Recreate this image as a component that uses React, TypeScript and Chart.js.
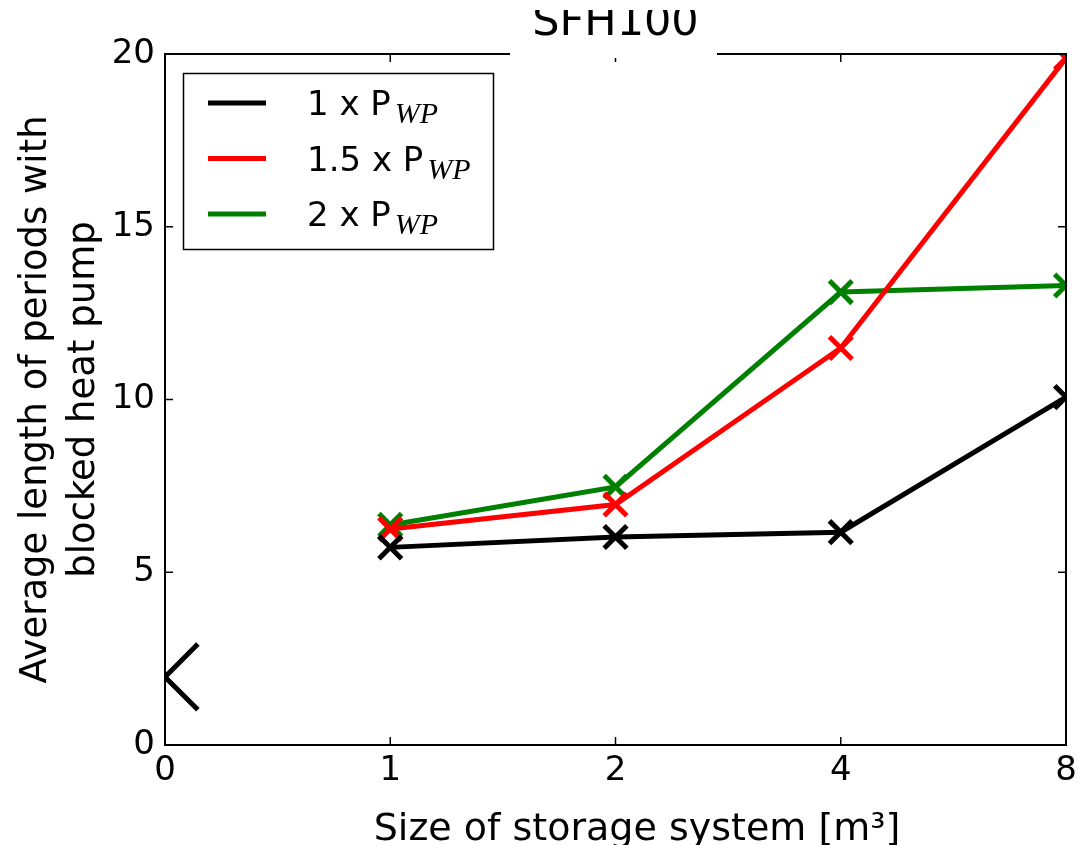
import React, { useEffect, useRef } from 'react';
import { Chart, registerables } from 'chart.js';

Chart.register(...registerables);

// ---- data ----
const categories = ['0', '1', '2', '4', '8'];
const seriesNames = ['1 x P', '1.5 x P', '2 x P'];
const seriesSubscript = 'WP';
const seriesColors = ['#000000', '#ff0000', '#008000'];
const series1x = [null, 5.72, 6.02, 6.16, 10.07];
const series15x = [null, 6.25, 6.96, 11.49, 19.88];
const series2x = [null, 6.37, 7.47, 13.11, 13.3];
const strayMarker = [1.97, null, null, null, null];
const yMin = 0;
const yMax = 20;
const yStep = 5;
const titleText = 'SFH100';
const xTitle = 'Size of storage system [m³]';
const yTitle = ['Average length of periods with', 'blocked heat pump'];

const FONT = '"DejaVu Sans", sans-serif';

const framePlugin = {
  id: 'framePlugin',
  afterDraw(chart: any) {
    const { ctx, chartArea, scales } = chart;
    const { left, right, top, bottom } = chartArea;
    const xs = scales.x;
    const ys = scales.y;
    ctx.save();
    ctx.strokeStyle = '#000';
    ctx.lineWidth = 2;
    ctx.strokeRect(left, top, right - left, bottom - top);
    ctx.lineWidth = 1.5;
    const tl = 8;
    const line = (x1: number, y1: number, x2: number, y2: number) => {
      ctx.beginPath();
      ctx.moveTo(x1, y1);
      ctx.lineTo(x2, y2);
      ctx.stroke();
    };
    ys.ticks.forEach((_t: any, i: number) => {
      const py = ys.getPixelForTick(i);
      line(left, py, left + tl, py);
      line(right, py, right - tl, py);
    });
    xs.ticks.forEach((_t: any, i: number) => {
      const px = xs.getPixelForTick(i);
      line(px, bottom, px, bottom - tl);
      line(px, top, px, top + tl);
    });

    // title with its white patch (top of the text clipped)
    const cx = (left + right) / 2;
    ctx.fillStyle = '#fff';
    ctx.fillRect(510, 0, 207, top + 4);
    ctx.save();
    ctx.beginPath();
    ctx.rect(510, 10, 207, top);
    ctx.clip();
    ctx.fillStyle = '#000';
    ctx.font = '43px ' + FONT;
    ctx.textAlign = 'center';
    ctx.textBaseline = 'alphabetic';
    ctx.fillText(titleText, cx, 35);
    ctx.restore();

    // legend
    const bx = 183.5, by = 73.5, bw = 310, bh = 176;
    ctx.fillStyle = '#fff';
    ctx.fillRect(bx, by, bw, bh);
    ctx.strokeStyle = '#000';
    ctx.lineWidth = 1.5;
    ctx.strokeRect(bx, by, bw, bh);
    const ds = chart.data.datasets.filter((d: any) => d.inLegend);
    ds.forEach((d: any, i: number) => {
      const cy = 103 + i * 55.5;
      ctx.strokeStyle = d.borderColor;
      ctx.lineWidth = 5;
      line(208, cy, 266, cy);
      ctx.fillStyle = '#000';
      ctx.textAlign = 'left';
      ctx.textBaseline = 'alphabetic';
      ctx.font = '34px ' + FONT;
      ctx.fillText(d.mainLabel, 307, cy + 12);
      const w = ctx.measureText(d.mainLabel).width;
      ctx.font = 'italic 30px "Liberation Serif", serif';
      ctx.fillText(d.subLabel, 307 + w + 4, cy + 20);
    });

    // x axis title
    ctx.fillStyle = '#000';
    ctx.font = '38px ' + FONT;
    ctx.textAlign = 'center';
    ctx.textBaseline = 'alphabetic';
    ctx.fillText(xTitle, 637, 840);
    ctx.restore();
  },
};

function makeSeries(idx: number, data: (number | null)[]) {
  return {
    label: seriesNames[idx] + ' ' + seriesSubscript,
    mainLabel: seriesNames[idx],
    subLabel: seriesSubscript,
    inLegend: true,
    data,
    borderColor: seriesColors[idx],
    backgroundColor: seriesColors[idx],
    borderWidth: 5,
    pointStyle: 'crossRot',
    pointRadius: 16,
    pointHoverRadius: 16,
    pointBorderWidth: 5,
    pointBorderColor: seriesColors[idx],
    spanGaps: false,
    tension: 0,
    clip: 0,
  };
}

export default function App() {
  const ref = useRef<HTMLCanvasElement | null>(null);
  useEffect(() => {
    if (!ref.current) return;
    const chart = new Chart(ref.current, {
      type: 'line',
      data: {
        labels: categories,
        datasets: [
          {
            label: '',
            inLegend: false,
            data: strayMarker,
            showLine: false,
            borderColor: '#000',
            backgroundColor: '#000',
            pointStyle: 'crossRot',
            pointRadius: 46.5,
            pointHoverRadius: 46.5,
            pointBorderWidth: 5,
            clip: 0,
          } as any,
          makeSeries(0, series1x) as any,
          makeSeries(1, series15x) as any,
          makeSeries(2, series2x) as any,
        ],
      },
      options: {
        responsive: false,
        animation: false,
        events: [],
        layout: { autoPadding: false, padding: { left: 0, right: 14, top: 54, bottom: 0 } },
        plugins: {
          legend: { display: false },
          tooltip: { enabled: false },
          title: { display: false },
        },
        scales: {
          x: {
            type: 'category',
            offset: false,
            grid: { display: false, drawTicks: false },
            border: { display: false },
            ticks: {
              color: '#000',
              font: { family: FONT, size: 34 },
              padding: 6,
              maxRotation: 0,
              autoSkip: false,
            },
            afterFit: (s: any) => {
              s.height = 100;
              s.paddingLeft = 0;
              s.paddingRight = 0;
            },
          },
          y: {
            type: 'linear',
            min: yMin,
            max: yMax,
            grid: { display: false, drawTicks: false },
            border: { display: false },
            ticks: {
              stepSize: yStep,
              color: '#000',
              font: { family: FONT, size: 34 },
              padding: 10,
            },
            title: {
              display: true,
              text: yTitle,
              color: '#000',
              font: { family: FONT, size: 37, lineHeight: 1.3 },
              padding: { top: 12, bottom: 0 },
            },
            afterFit: (s: any) => {
              s.width = 165;
              s.paddingTop = 0;
              s.paddingBottom = 0;
            },
          },
        },
      },
      plugins: [framePlugin],
    });
    return () => chart.destroy();
  }, []);
  return (
    <div style={{ position: 'fixed', left: 0, top: 0, width: 1080, height: 845, background: '#fff' }}>
      <canvas ref={ref} width={1080} height={845} />
    </div>
  );
}
